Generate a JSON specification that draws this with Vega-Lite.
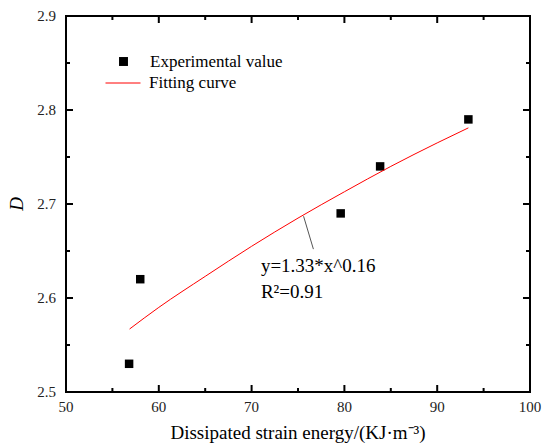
{
  "$schema": "https://vega.github.io/schema/vega-lite/v6.json",
  "width": 464,
  "height": 376,
  "autosize": {"type": "none"},
  "padding": {"left": 66, "top": 16, "right": 14, "bottom": 56},
  "background": "white",
  "config": {
    "view": {"stroke": "black", "strokeWidth": 2},
    "font": "Liberation Serif"
  },
  "datasets": {
    "points": [
      {"E": 56.8, "D": 2.53},
      {"E": 58.0, "D": 2.62},
      {"E": 79.6, "D": 2.69},
      {"E": 83.85, "D": 2.74},
      {"E": 93.36, "D": 2.79}
    ],
    "curve": [
      {"E": 56.85, "D": 2.567},
      {"E": 60, "D": 2.590},
      {"E": 65, "D": 2.623},
      {"E": 70, "D": 2.655},
      {"E": 75, "D": 2.685},
      {"E": 80, "D": 2.713},
      {"E": 85, "D": 2.740},
      {"E": 90, "D": 2.765},
      {"E": 93.36, "D": 2.781}
    ],
    "leader": [
      {"E": 75.6, "D": 2.687, "E2": 76.66, "D2": 2.652}
    ],
    "notes": [
      {"E": 71.0, "D": 2.628, "label": "y=1.33*x^0.16"},
      {"E": 71.0, "D": 2.600, "label": "R²=0.91"}
    ],
    "frame": [{"x1": 50, "x2": 100, "y1": 2.5, "y2": 2.9}],
    "xall": [{"v": 50}, {"v": 60}, {"v": 70}, {"v": 80}, {"v": 90}, {"v": 100}],
    "yall": [{"v": 2.5}, {"v": 2.6}, {"v": 2.7}, {"v": 2.8}, {"v": 2.9}],
    "xmajor": [{"v": 60}, {"v": 70}, {"v": 80}, {"v": 90}],
    "xminor": [{"v": 55}, {"v": 65}, {"v": 75}, {"v": 85}, {"v": 95}],
    "ymajor": [{"v": 2.6}, {"v": 2.7}, {"v": 2.8}],
    "yminor": [{"v": 2.55}, {"v": 2.65}, {"v": 2.75}, {"v": 2.85}],
    "titles": [{"xt": "Dissipated strain energy/(KJ·m⁻³)", "yt": "D"}]
  },
  "layer": [
    {
      "data": {"name": "frame"},
      "mark": {"type": "rect", "fill": null, "fillOpacity": 0, "stroke": "black", "strokeWidth": 2, "opacity": 1},
      "encoding": {
        "x": {"field": "x1", "type": "quantitative", "scale": {"domain": [50, 100], "nice": false, "zero": false}, "axis": null},
        "x2": {"field": "x2"},
        "y": {"field": "y1", "type": "quantitative", "scale": {"domain": [2.5, 2.9], "nice": false, "zero": false}, "axis": null},
        "y2": {"field": "y2"}
      }
    },
    {
      "data": {"name": "xmajor"},
      "mark": {"type": "tick", "orient": "vertical", "size": 7, "thickness": 2, "color": "black", "opacity": 1, "yOffset": -3.5},
      "encoding": {"x": {"field": "v", "type": "quantitative", "axis": null}, "y": {"datum": 2.5, "type": "quantitative", "axis": null}}
    },
    {
      "data": {"name": "xmajor"},
      "mark": {"type": "tick", "orient": "vertical", "size": 7, "thickness": 2, "color": "black", "opacity": 1, "yOffset": 3.5},
      "encoding": {"x": {"field": "v", "type": "quantitative", "axis": null}, "y": {"datum": 2.9, "type": "quantitative", "axis": null}}
    },
    {
      "data": {"name": "xminor"},
      "mark": {"type": "tick", "orient": "vertical", "size": 4, "thickness": 2, "color": "black", "opacity": 1, "yOffset": -2},
      "encoding": {"x": {"field": "v", "type": "quantitative", "axis": null}, "y": {"datum": 2.5, "type": "quantitative", "axis": null}}
    },
    {
      "data": {"name": "xminor"},
      "mark": {"type": "tick", "orient": "vertical", "size": 4, "thickness": 2, "color": "black", "opacity": 1, "yOffset": 2},
      "encoding": {"x": {"field": "v", "type": "quantitative", "axis": null}, "y": {"datum": 2.9, "type": "quantitative", "axis": null}}
    },
    {
      "data": {"name": "ymajor"},
      "mark": {"type": "tick", "orient": "horizontal", "size": 7, "thickness": 2, "color": "black", "opacity": 1, "xOffset": 3.5},
      "encoding": {"y": {"field": "v", "type": "quantitative", "axis": null}, "x": {"datum": 50, "type": "quantitative", "axis": null}}
    },
    {
      "data": {"name": "ymajor"},
      "mark": {"type": "tick", "orient": "horizontal", "size": 7, "thickness": 2, "color": "black", "opacity": 1, "xOffset": -3.5},
      "encoding": {"y": {"field": "v", "type": "quantitative", "axis": null}, "x": {"datum": 100, "type": "quantitative", "axis": null}}
    },
    {
      "data": {"name": "yminor"},
      "mark": {"type": "tick", "orient": "horizontal", "size": 4, "thickness": 2, "color": "black", "opacity": 1, "xOffset": 2},
      "encoding": {"y": {"field": "v", "type": "quantitative", "axis": null}, "x": {"datum": 50, "type": "quantitative", "axis": null}}
    },
    {
      "data": {"name": "yminor"},
      "mark": {"type": "tick", "orient": "horizontal", "size": 4, "thickness": 2, "color": "black", "opacity": 1, "xOffset": -2},
      "encoding": {"y": {"field": "v", "type": "quantitative", "axis": null}, "x": {"datum": 100, "type": "quantitative", "axis": null}}
    },
    {
      "data": {"name": "points"},
      "mark": {"type": "square", "size": 72, "filled": true, "opacity": 1},
      "encoding": {
        "x": {"field": "E", "type": "quantitative", "axis": null},
        "y": {"field": "D", "type": "quantitative", "axis": null},
        "fill": {"datum": "Experimental value", "type": "nominal",
          "scale": {"range": ["black"]},
          "legend": {"title": null, "orient": "none", "legendX": 49, "legendY": 37, "padding": 0, "labelFont": "Liberation Serif", "labelFontSize": 17, "labelColor": "black", "labelOffset": 18, "symbolType": "square", "symbolSize": 80, "symbolStrokeWidth": 0}}
      }
    },
    {
      "data": {"name": "curve"},
      "mark": {"type": "line", "strokeWidth": 1, "interpolate": "monotone"},
      "encoding": {
        "x": {"field": "E", "type": "quantitative", "axis": null},
        "y": {"field": "D", "type": "quantitative", "axis": null},
        "stroke": {"datum": "Fitting curve", "type": "nominal",
          "scale": {"range": ["#ff0000"]},
          "legend": {"title": null, "orient": "none", "legendX": 39, "legendY": 49, "padding": 0, "labelFont": "Liberation Serif", "labelFontSize": 17, "labelColor": "black", "labelOffset": 8, "symbolType": "stroke", "symbolSize": 1225, "symbolStrokeWidth": 1}}
      }
    },
    {
      "data": {"name": "leader"},
      "mark": {"type": "rule", "color": "#555555", "strokeWidth": 1},
      "encoding": {
        "x": {"field": "E", "type": "quantitative", "axis": null},
        "y": {"field": "D", "type": "quantitative", "axis": null},
        "x2": {"field": "E2"},
        "y2": {"field": "D2"}
      }
    },
    {
      "data": {"name": "notes"},
      "mark": {"type": "text", "align": "left", "baseline": "alphabetic", "font": "Liberation Serif", "fontSize": 19, "color": "black"},
      "encoding": {
        "x": {"field": "E", "type": "quantitative", "axis": null},
        "y": {"field": "D", "type": "quantitative", "axis": null},
        "text": {"field": "label"}
      }
    },
    {
      "data": {"name": "xall"},
      "mark": {"type": "text", "align": "center", "baseline": "top", "dy": 8, "font": "Liberation Serif", "fontSize": 15, "color": "#222222"},
      "encoding": {
        "x": {"field": "v", "type": "quantitative", "axis": null},
        "y": {"datum": 2.5, "type": "quantitative", "axis": null},
        "text": {"field": "v", "type": "quantitative", "format": "d"}
      }
    },
    {
      "data": {"name": "yall"},
      "mark": {"type": "text", "align": "right", "baseline": "middle", "dx": -10, "font": "Liberation Serif", "fontSize": 15, "color": "#222222"},
      "encoding": {
        "y": {"field": "v", "type": "quantitative", "axis": null},
        "x": {"datum": 50, "type": "quantitative", "axis": null},
        "text": {"field": "v", "type": "quantitative", "format": ".1f"}
      }
    },
    {
      "data": {"name": "titles"},
      "mark": {"type": "text", "align": "center", "baseline": "middle", "dy": 41, "font": "Liberation Serif", "fontSize": 19, "color": "black"},
      "encoding": {
        "x": {"datum": 75, "type": "quantitative", "axis": null},
        "y": {"datum": 2.5, "type": "quantitative", "axis": null},
        "text": {"field": "xt"}
      }
    },
    {
      "data": {"name": "titles"},
      "mark": {"type": "text", "align": "center", "baseline": "middle", "angle": 270, "font": "Liberation Serif", "fontStyle": "italic", "fontSize": 19, "color": "black"},
      "encoding": {
        "x": {"datum": 44.7, "type": "quantitative", "axis": null},
        "y": {"datum": 2.7, "type": "quantitative", "axis": null},
        "text": {"field": "yt"}
      }
    }
  ],
  "resolve": {"legend": {"fill": "independent", "stroke": "independent"}}
}
